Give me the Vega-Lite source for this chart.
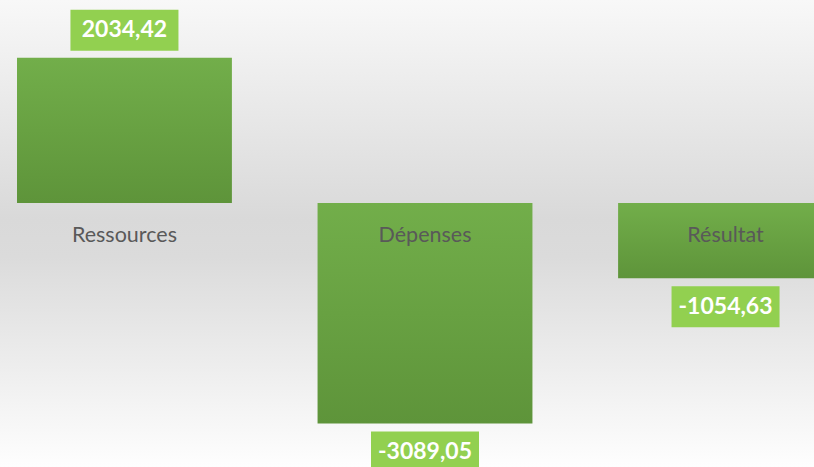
{
  "$schema": "https://vega.github.io/schema/vega-lite/v6.json",
  "width": 850,
  "height": 467,
  "autosize": {"type": "none"},
  "padding": 0,
  "background": "#ebebeb",
  "config": {
    "view": {"stroke": null},
    "font": "Lato"
  },
  "data": {
    "values": [
      {"Category": "Ressources", "value": 2034.42},
      {"Category": "Dépenses", "value": -3089.05},
      {"Category": "Résultat", "value": -1054.63}
    ]
  },
  "layer": [
    {
      "data": {"values": [{"bg": 1}]},
      "mark": {"type": "rect",
        "fill": {"gradient": "linear", "x1": 0, "y1": 0, "x2": 0, "y2": 1,
          "stops": [
            {"offset": 0, "color": "#f8f8f8"},
            {"offset": 0.47, "color": "#d9d9d9"},
            {"offset": 0.55, "color": "#dbdbdb"},
            {"offset": 1, "color": "#fefefe"}
          ]}},
      "encoding": {"x": {"value": 0}, "x2": {"value": "width"}, "y": {"value": 0}, "y2": {"value": "height"}}
    },
    {
      "mark": {"type": "bar",
        "fill": {"gradient": "linear", "x1": 0, "y1": 0, "x2": 0, "y2": 1,
          "stops": [{"offset": 0, "color": "#72ae4a"}, {"offset": 1, "color": "#5e943a"}]}},
      "encoding": {
        "x": {"field": "Category", "type": "nominal", "sort": null, "scale": {"paddingInner": 0.285, "paddingOuter": 0.0566}, "axis": null},
        "y": {"field": "value", "type": "quantitative", "axis": null,
          "scale": {"domain": [-3697, 2843], "nice": false, "zero": false}}
      }
    },
    {
      "mark": {"type": "text", "fontSize": 21.5, "color": "#595959", "baseline": "middle", "yOffset": 33},
      "encoding": {
        "x": {"field": "Category", "type": "nominal", "sort": null, "axis": null},
        "y": {"datum": 0, "type": "quantitative"},
        "text": {"field": "Category"}
      }
    },
    {
      "mark": {"type": "bar", "fill": "#92d050", "width": 108,
        "yOffset": {"expr": "datum.value < 0 ? 8 : -48"},
        "y2Offset": {"expr": "datum.value < 0 ? 49 : -7"}},
      "encoding": {
        "x": {"field": "Category", "type": "nominal", "sort": null, "axis": null},
        "y": {"field": "value", "type": "quantitative"},
        "y2": {"field": "value"}
      }
    },
    {
      "mark": {"type": "text", "fontSize": 23, "fontWeight": "bold", "color": "#ffffff", "baseline": "middle",
        "yOffset": {"expr": "datum.value < 0 ? 28.5 : -27.5"},
        "text": {"expr": "replace(replace(format(datum.value, '.2f'), '.', ','), '\u2212', '-')"}},
      "encoding": {
        "x": {"field": "Category", "type": "nominal", "sort": null, "axis": null},
        "y": {"field": "value", "type": "quantitative"}
      }
    }
  ]
}
